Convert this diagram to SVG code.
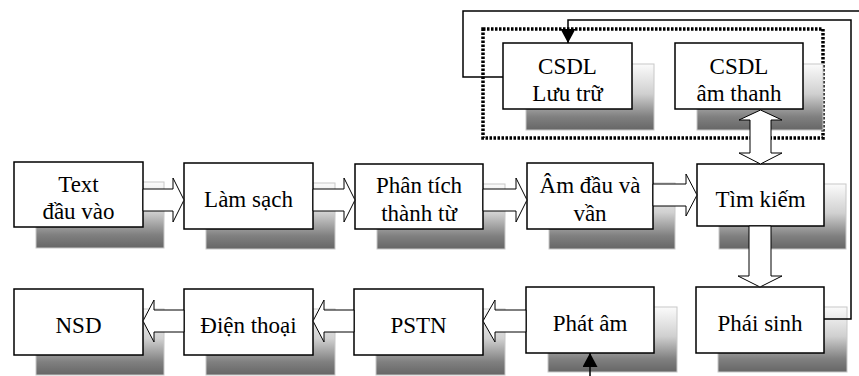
<svg xmlns="http://www.w3.org/2000/svg" width="859" height="376" viewBox="0 0 859 376" font-family="'Liberation Serif', 'Times New Roman', 'DejaVu Serif', serif">
  <defs>
    <!-- soft drop-shadow fill: light at the top, darker towards the bottom -->
    <linearGradient id="shade" x1="0" y1="0" x2="0" y2="1">
      <stop offset="0" stop-color="#fbfbfb"/>
      <stop offset="0.45" stop-color="#d0d0d0"/>
      <stop offset="0.8" stop-color="#808080"/>
      <stop offset="1" stop-color="#666666"/>
    </linearGradient>
    <marker id="tip" markerUnits="userSpaceOnUse" markerWidth="16" markerHeight="16" refX="14" refY="7.5" orient="auto">
      <path d="M0,0 L14,7.5 L0,15 Z" fill="#000"/>
    </marker>
  </defs>
  <style>
    .box { fill: #fff; stroke: #000; stroke-width: 1.5; }
    .shadow { fill: url(#shade); stroke: #c8c8c8; stroke-width: 1; }
    .blk { fill: #fff; stroke: #000; stroke-width: 1; stroke-linejoin: miter; }
    .wire { fill: none; stroke: #000; stroke-width: 1.5; }
    .frame { fill: none; stroke: #000; stroke-width: 3.5; stroke-dasharray: 2.5 1.5; }
    .lbl { font-family: 'Liberation Serif', 'Times New Roman', 'DejaVu Serif', serif; font-size: 23px; font-weight: normal; text-anchor: middle; fill: #000; }
  </style>

  <rect width="859" height="376" fill="#fff"/>

  <!-- database group frame -->
  <g id="db-frame">
    <rect class="frame" x="483" y="29" width="340" height="109"/>
  </g>

  <!-- nodes -->
  <g id="n-text-input">
    <rect class="shadow" x="36" y="182" width="128" height="66"/>
    <rect class="box" x="14" y="162" width="129" height="65"/>
    <text class="lbl" x="78.5" y="192">Text</text>
    <text class="lbl" x="78.5" y="219">đầu vào</text>
  </g>
  <g id="n-clean">
    <rect class="shadow" x="206" y="183" width="129" height="66"/>
    <rect class="box" x="184" y="163" width="129" height="66"/>
    <text class="lbl" x="248.5" y="207">Làm sạch</text>
  </g>
  <g id="n-tokenize">
    <rect class="shadow" x="377" y="184" width="128" height="65"/>
    <rect class="box" x="355" y="164" width="128" height="65"/>
    <text class="lbl" x="419" y="193">Phân tích</text>
    <text class="lbl" x="419" y="221">thành từ</text>
  </g>
  <g id="n-syllable">
    <rect class="shadow" x="549" y="183" width="126" height="66"/>
    <rect class="box" x="527" y="163" width="126" height="66"/>
    <text class="lbl" x="590" y="193">Âm đầu và</text>
    <text class="lbl" x="590" y="221">vần</text>
  </g>
  <g id="n-search">
    <rect class="shadow" x="719" y="184" width="127" height="65"/>
    <rect class="box" x="697" y="164" width="127" height="62"/>
    <text class="lbl" x="760.5" y="207">Tìm kiếm</text>
  </g>
  <g id="n-user">
    <rect class="shadow" x="36" y="309" width="128" height="66"/>
    <rect class="box" x="14" y="289" width="129" height="66"/>
    <text class="lbl" x="78.5" y="333">NSD</text>
  </g>
  <g id="n-phone">
    <rect class="shadow" x="206" y="309" width="129" height="66"/>
    <rect class="box" x="184" y="289" width="129" height="66"/>
    <text class="lbl" x="248.5" y="333">Điện thoại</text>
  </g>
  <g id="n-pstn">
    <rect class="shadow" x="376" y="309" width="129" height="66"/>
    <rect class="box" x="354" y="289" width="129" height="66"/>
    <text class="lbl" x="418.5" y="333">PSTN</text>
  </g>
  <g id="n-speak">
    <rect class="shadow" x="548" y="307" width="129" height="65"/>
    <rect class="box" x="526" y="287" width="128" height="66"/>
    <text class="lbl" x="590" y="331">Phát âm</text>
  </g>
  <g id="n-derive">
    <rect class="shadow" x="718" y="307" width="129" height="65"/>
    <rect class="box" x="696" y="287" width="128" height="66"/>
    <text class="lbl" x="760" y="331">Phái sinh</text>
  </g>
  <g id="n-db-store">
    <rect class="shadow" x="526" y="64" width="128" height="66"/>
    <rect class="box" x="503" y="43" width="129" height="66"/>
    <text class="lbl" x="567.5" y="74">CSDL</text>
    <text class="lbl" x="567.5" y="101">Lưu trữ</text>
  </g>
  <g id="n-db-sound">
    <rect class="shadow" x="697" y="64" width="126" height="66"/>
    <rect class="box" x="675" y="43" width="128" height="66"/>
    <text class="lbl" x="739" y="74">CSDL</text>
    <text class="lbl" x="739" y="101">âm thanh</text>
  </g>

  <!-- connectors -->
  <g id="connectors">
    <!-- top row, left to right -->
    <polygon class="blk" points="143,189 173,189 173,178 184,200 173,222 173,211 143,211"/>
    <polygon class="blk" points="313,189 344,189 344,178 355,200 344,222 344,211 313,211"/>
    <polygon class="blk" points="483,189 516,189 516,178 527,200 516,222 516,211 483,211"/>
    <polygon class="blk" points="653,184 686,184 686,174 697,195 686,216 686,206 653,206"/>
    <!-- search down to derivation -->
    <polygon class="blk" points="749,226 771,226 771,276 782,276 760,287 738,276 749,276"/>
    <!-- sound database <-> search -->
    <polygon class="blk" points="760.5,110 782,120 771,120 771,153 782,153 760.5,164 739,153 750,153 750,120 739,120"/>
    <!-- bottom row, right to left -->
    <polygon class="blk" points="526,310 495,310 495,300 483,321 495,342 495,332 526,332"/>
    <polygon class="blk" points="354,310 324,310 324,300 313,321 324,342 324,332 354,332"/>
    <polygon class="blk" points="184,310 154,310 154,300 143,321 154,342 154,332 184,332"/>
    <!-- derivation back to the storage database -->
    <path class="wire" d="M824,319 H851 V20 H568 V43" marker-end="url(#tip)"/>
    <!-- storage database out to the speech stage -->
    <path class="wire" d="M503,77 H463 V11 H859"/>
    <path class="wire" d="M590,376 V353" marker-end="url(#tip)"/>
  </g>
</svg>
